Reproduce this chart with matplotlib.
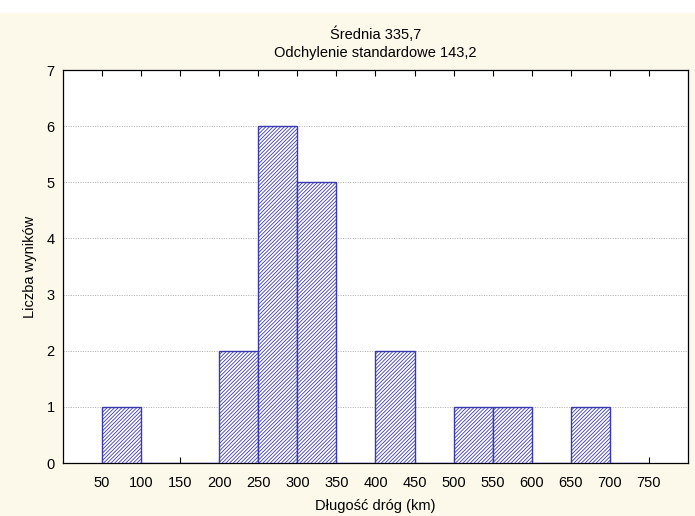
import matplotlib
matplotlib.use("Agg")
import matplotlib.pyplot as plt
from matplotlib.patches import Rectangle

plt.rcParams['font.family'] = ['Liberation Sans', 'DejaVu Sans']
plt.rcParams['hatch.linewidth'] = 0.6

# bin left edges (km) and number of results per bin
bin_left = [50, 100, 150, 200, 250, 300, 350, 400, 450, 500, 550, 600, 650, 700]
counts = [1, 0, 0, 2, 6, 5, 0, 2, 0, 1, 1, 0, 1, 0]
bin_width = 50
x_ticks = [50, 100, 150, 200, 250, 300, 350, 400, 450, 500, 550, 600, 650, 700, 750]
y_ticks = [0, 1, 2, 3, 4, 5, 6, 7]

bg = '#fcf8ea'
fig = plt.figure(figsize=(6.95, 5.16), dpi=100, facecolor=bg)
# white strip along the top edge, as in the scanned original
fig.patches.append(Rectangle((0, 0.975), 1, 0.025, transform=fig.transFigure,
                             facecolor='white', edgecolor='none', zorder=-1))
ax = fig.add_axes([0.0906, 0.1027, 0.8993, 0.7616])
ax.set_facecolor('white')

ax.bar(bin_left, counts, width=bin_width, align='edge', color='white',
       edgecolor='#3a3ab0', hatch='/////////', linewidth=1.0, zorder=3)

ax.set_xlim(0, 800)
ax.set_ylim(0, 7)
ax.set_xticks(x_ticks)
ax.set_yticks(y_ticks)
ax.tick_params(axis='x', direction='in', length=4, width=0.8, labelsize=10.5,
               pad=9, top=True)
ax.tick_params(axis='y', pad=6, length=0, labelsize=10.5)
ax.grid(axis='y', linestyle=(0, (1, 1.5)), color='#aaaaaa', linewidth=0.7, zorder=0)
for s in ax.spines.values():
    s.set_linewidth(0.9)

ax.set_xlabel('Długość dróg (km)', fontsize=10.5, labelpad=7)
ax.set_ylabel('Liczba wyników', fontsize=10.5, labelpad=7)
ax.set_title('Średnia 335,7\nOdchylenie standardowe 143,2', fontsize=10.5, pad=9.5,
             linespacing=1.35)

fig.savefig('out.png', dpi=100, facecolor=bg)
